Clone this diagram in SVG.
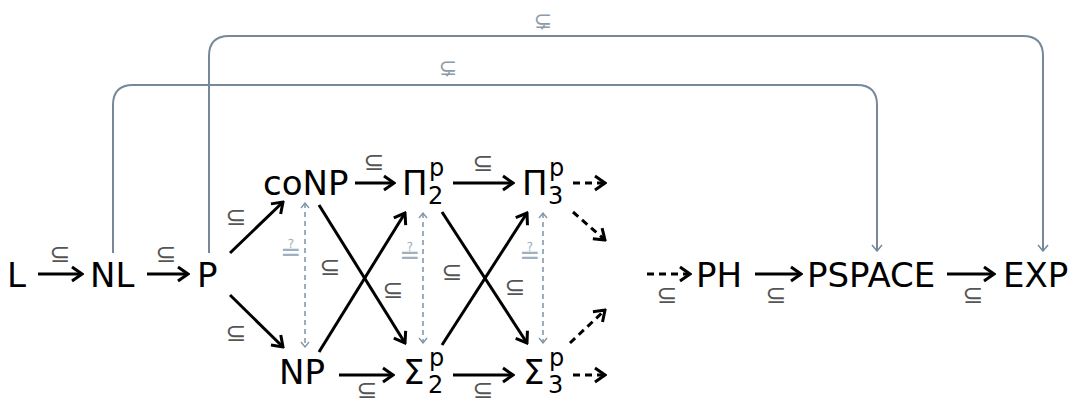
<svg xmlns="http://www.w3.org/2000/svg" width="1079" height="404" viewBox="0 0 1079 404">
<style>
.n{font-family:"DejaVu Sans",sans-serif;font-size:34px;fill:#000}
.s{font-family:"DejaVu Sans",sans-serif;font-size:24px;fill:#000}
.lb{font-family:"DejaVu Sans",sans-serif;font-size:25px;fill:#555;text-anchor:middle}
.lg{font-family:"DejaVu Sans",sans-serif;font-size:22px;fill:#8a9bab;text-anchor:middle}
.lq{font-family:"DejaVu Sans",sans-serif;font-size:25px;fill:#9fb0c0;text-anchor:middle}
.a{stroke:#000;stroke-width:3;fill:none;marker-end:url(#ah)}
.d{stroke:#000;stroke-width:3;fill:none;stroke-dasharray:7 5;marker-end:url(#ah)}
.g{stroke:#778899;stroke-width:2;fill:none;marker-end:url(#gh)}
.q{stroke:#7d93a5;stroke-width:1.5;fill:none;stroke-dasharray:5 4;marker-start:url(#qh);marker-end:url(#qh)}
</style>
<defs>
<marker id="ah" markerUnits="userSpaceOnUse" viewBox="-12 -9 14 18" markerWidth="14" markerHeight="18" refX="0" refY="0" orient="auto">
<path d="M-10,-7 L0,0 L-10,7" fill="none" stroke="#000" stroke-width="3" stroke-linejoin="miter"/>
</marker>
<marker id="gh" markerUnits="userSpaceOnUse" viewBox="-8 -6 9 12" markerWidth="9" markerHeight="12" refX="0" refY="0" orient="auto">
<path d="M-6,-5 L0,0 L-6,5" fill="none" stroke="#778899" stroke-width="1.5"/>
</marker>
<marker id="qh" markerUnits="userSpaceOnUse" viewBox="-7 -5 8 10" markerWidth="8" markerHeight="10" refX="0" refY="0" orient="auto-start-reverse">
<path d="M-5,-4 L0,0 L-5,4" fill="none" stroke="#7d93a5" stroke-width="1.3"/>
</marker>
</defs>

<g id="connectors">
<path class="g" d="M113,253 V105 Q113,85 133,85 H857 Q877,85 877,105 V251"/>
<path class="g" d="M209,253 V56 Q209,36 229,36 H1023 Q1043,36 1043,56 V251"/>
<line class="a" x1="38" y1="274" x2="82" y2="274"/>
<line class="a" x1="147" y1="274" x2="188" y2="274"/>
<line class="a" x1="230" y1="253" x2="283" y2="202"/>
<line class="a" x1="230" y1="295" x2="283" y2="347"/>
<line class="a" x1="355" y1="183" x2="394" y2="183"/>
<line class="a" x1="453" y1="183" x2="513" y2="183"/>
<line class="a" x1="339" y1="375" x2="393" y2="375"/>
<line class="a" x1="453" y1="375" x2="513" y2="375"/>
<line class="a" x1="319" y1="205" x2="405" y2="343"/>
<line class="a" x1="319" y1="352" x2="405" y2="213"/>
<line class="a" x1="442" y1="212" x2="527" y2="343"/>
<line class="a" x1="442" y1="345" x2="527" y2="213"/>
<line class="q" x1="305" y1="203" x2="305" y2="347"/>
<line class="q" x1="423" y1="213" x2="423" y2="343"/>
<line class="q" x1="543" y1="213" x2="543" y2="343"/>
<line class="d" x1="573" y1="183" x2="605" y2="183"/>
<line class="d" x1="573" y1="212" x2="605" y2="240"/>
<line class="d" x1="570" y1="343" x2="605" y2="310"/>
<line class="d" x1="573" y1="375" x2="605" y2="375"/>
<line class="d" x1="647" y1="274" x2="690" y2="274"/>
<line class="a" x1="755" y1="274" x2="801" y2="274"/>
<line class="a" x1="947" y1="274" x2="994" y2="274"/>
</g>

<g id="edge-labels">
<text class="lg" x="543" y="28">⊊</text>
<text class="lg" x="448" y="75">⊊</text>
<text class="lb" x="60" y="262">⊆</text>
<text class="lb" x="166" y="262">⊆</text>
<text class="lb" x="236" y="225">⊆</text>
<text class="lb" x="236" y="341">⊆</text>
<text class="lb" x="374" y="170">⊆</text>
<text class="lb" x="483" y="171">⊆</text>
<text class="lb" x="330" y="275">⊆</text>
<text class="lb" x="393" y="298">⊆</text>
<text class="lb" x="452" y="280">⊆</text>
<text class="lb" x="515" y="295">⊆</text>
<text class="lb" x="367" y="398">⊆</text>
<text class="lb" x="483" y="398">⊆</text>
<text class="lb" x="667" y="303">⊆</text>
<text class="lb" x="776" y="303">⊆</text>
<text class="lb" x="973" y="303">⊆</text>
<text class="lq" x="291" y="260">≟</text>
<text class="lq" x="410" y="263">≟</text>
<text class="lq" x="530" y="263">≟</text>
</g>

<g id="L"><text class="n" x="7" y="287">L</text></g>
<g id="NL"><text class="n" x="90" y="287">NL</text></g>
<g id="P"><text class="n" x="197" y="287">P</text></g>
<g id="coNP"><text class="n" x="263" y="195">coNP</text></g>
<g id="NP"><text class="n" x="279" y="384">NP</text></g>
<g id="Pi2"><text class="n" x="402" y="195">Π</text><text class="s" x="429" y="176">p</text><text class="s" x="428" y="204">2</text></g>
<g id="Pi3"><text class="n" x="522" y="195">Π</text><text class="s" x="549" y="176">p</text><text class="s" x="548" y="204">3</text></g>
<g id="Sigma2"><text class="n" x="403" y="384">Σ</text><text class="s" x="429" y="366">p</text><text class="s" x="428" y="393">2</text></g>
<g id="Sigma3"><text class="n" x="523" y="384">Σ</text><text class="s" x="549" y="366">p</text><text class="s" x="548" y="393">3</text></g>
<g id="PH"><text class="n" x="696" y="287">PH</text></g>
<g id="PSPACE"><text class="n" x="807" y="287">PSPACE</text></g>
<g id="EXP"><text class="n" x="1003" y="287">EXP</text></g>
</svg>
